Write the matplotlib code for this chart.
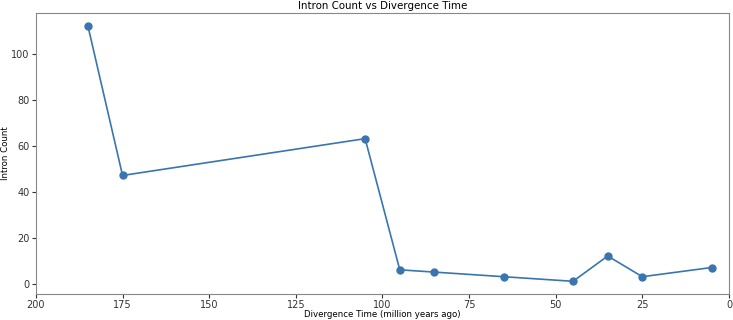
import matplotlib
matplotlib.use("Agg")
import matplotlib.pyplot as plt

divergence_time = [185, 175, 105, 95, 85, 65, 45, 35, 25, 5]
intron_count = [112, 47, 63, 6, 5, 3, 1, 12, 3, 7]

fig = plt.figure(figsize=(7.33, 3.2), dpi=100)
ax = fig.add_axes([0.049, 0.081, 0.9455, 0.878])
ax.plot(divergence_time, intron_count, marker='o', color='#3a75b0', markersize=5, linewidth=1.2)
ax.set_xlim(200, 0)
ax.set_title("Intron Count vs Divergence Time", fontsize=7.4, pad=3)
ax.set_xlabel("Divergence Time (million years ago)", fontsize=6.2, labelpad=0)
ax.set_ylabel("Intron Count", fontsize=6.2, labelpad=1)
ax.tick_params(labelsize=7, colors='#333333', length=3, pad=1.5)
for s in ax.spines.values():
    s.set_color('#888888')
fig.savefig("out.png", dpi=100)
